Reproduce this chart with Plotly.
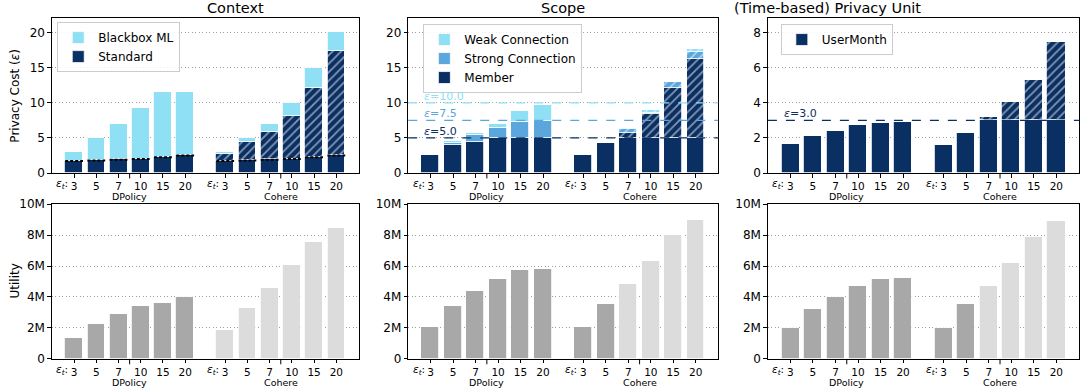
import plotly.graph_objects as go

NAVY = "#0a2f62"
LIGHT = "#8fe0f5"
MID = "#5aa6dd"
DARK_GRAY = "#a8a8a8"
LIGHT_GRAY = "#dcdcdc"
FONT = "DejaVu Sans"

# categories
eps_labels = ["3", "5", "7", "10", "15", "20"]
systems = ["DPolicy", "Cohere"]
dp_x = [0, 1, 2, 3, 4, 5]
co_x = [6.8, 7.8, 8.8, 9.8, 10.8, 11.8]

# Context: privacy cost (bar tops)
ctx_standard_base = [1.7, 1.8, 1.9, 2.0, 2.25, 2.5]
ctx_dp_total = [3.0, 4.95, 7.0, 9.3, 11.45, 11.5]
ctx_co_standard = [2.75, 4.36, 5.78, 8.15, 12.1, 17.3]
ctx_co_total = [3.0, 5.0, 7.0, 10.0, 15.0, 20.0]

# Scope: privacy cost (cumulative tops)
scope_dp_member = [2.5, 4.0, 4.36, 5.0, 5.0, 5.0]
scope_dp_strong = [2.5, 4.2, 5.35, 6.35, 7.2, 7.4]
scope_dp_weak = [2.5, 4.5, 5.64, 6.97, 8.8, 9.6]
scope_co_member = [2.5, 4.27, 5.7, 8.38, 12.1, 16.2]
scope_co_strong = [2.5, 4.27, 6.28, 8.5, 12.95, 17.2]
scope_co_weak = [2.5, 4.27, 6.43, 8.95, 13.0, 17.7]
scope_thresholds = [5.0, 7.5, 10.0]
scope_threshold_colors = [NAVY, MID, LIGHT]

# (Time-based) Privacy Unit
unit_dp = [1.67, 2.08, 2.41, 2.75, 2.86, 2.9]
unit_co = [1.61, 2.29, 3.18, 4.02, 5.27, 7.45]
unit_threshold = 3.0

# Utility (millions)
util_ctx_dp = [1.36, 2.22, 2.91, 3.43, 3.6, 3.97]
util_ctx_co = [1.85, 3.28, 4.55, 6.03, 7.56, 8.47]
util_scope_dp = [2.03, 3.43, 4.37, 5.17, 5.75, 5.8]
util_scope_co = [2.03, 3.56, 4.85, 6.34, 8.02, 8.99]
util_unit_dp = [1.98, 3.25, 4.0, 4.68, 5.15, 5.24]
util_unit_co = [2.0, 3.56, 4.72, 6.2, 7.84, 8.88]
util_ticks = [0, 2, 4, 6, 8, 10]
util_ticktext = ["0", "2M", "4M", "6M", "8M", "10M"]

titles = ["Context", "Scope", "(Time-based) Privacy Unit"]

BW = 0.8
HATCH = dict(shape="/", fgcolor="white", fillmode="overlay", size=6, solidity=0.3)
EDGE = dict(color="white", width=0.8)


def diff(a, b):
    return [max(x - y, 0) for x, y in zip(a, b)]


fig = go.Figure()


def bar(x, y, color, name, xa, ya, legend=None, hatch=False, showlegend=True):
    marker = dict(color=color, line=EDGE)
    if hatch:
        marker["pattern"] = dict(HATCH, bgcolor=color)
    fig.add_trace(go.Bar(
        x=x, y=y, name=name, width=BW, marker=marker,
        xaxis=xa, yaxis=ya, legend=legend or "legend",
        showlegend=showlegend and legend is not None,
    ))


# ---- Context ----
bar(dp_x + co_x, ctx_standard_base + ctx_standard_base, NAVY, "Standard", "x", "y", "legend")
bar(co_x, diff(ctx_co_standard, ctx_standard_base), NAVY, "Standard", "x", "y", "legend",
    hatch=True, showlegend=False)
bar(dp_x + co_x, diff(ctx_dp_total, ctx_standard_base) + diff(ctx_co_total, ctx_co_standard),
    LIGHT, "Blackbox ML", "x", "y", "legend")
seg_x, seg_y = [], []
for x, b in zip(dp_x + co_x, ctx_standard_base + ctx_standard_base):
    seg_x += [x - BW / 2, x + BW / 2, None]
    seg_y += [b, b, None]
fig.add_trace(go.Scatter(x=seg_x, y=seg_y, mode="lines", xaxis="x", yaxis="y",
                         line=dict(color="black", width=2, dash="3px,2px"),
                         showlegend=False, hoverinfo="skip"))

# ---- Scope ----
cap = scope_thresholds[0]
co_solid = [min(v, cap) for v in scope_co_member]
bar(dp_x + co_x, scope_dp_member + co_solid, NAVY, "Member", "x2", "y2", "legend2")
bar(co_x, diff(scope_co_member, co_solid), NAVY, "Member", "x2", "y2", "legend2",
    hatch=True, showlegend=False)
bar(dp_x, diff(scope_dp_strong, scope_dp_member), MID, "Strong Connection", "x2", "y2", "legend2")
bar(co_x, diff(scope_co_strong, scope_co_member), MID, "Strong Connection", "x2", "y2", "legend2",
    hatch=True, showlegend=False)
bar(dp_x, diff(scope_dp_weak, scope_dp_strong), LIGHT, "Weak Connection", "x2", "y2", "legend2")
bar(co_x, diff(scope_co_weak, scope_co_strong), LIGHT, "Weak Connection", "x2", "y2", "legend2",
    hatch=True, showlegend=False)

# ---- Privacy Unit ----
unit_co_solid = [min(v, unit_threshold) for v in unit_co]
bar(dp_x + co_x, unit_dp + unit_co_solid, NAVY, "UserMonth", "x3", "y3", "legend3")
bar(co_x, diff(unit_co, unit_co_solid), NAVY, "UserMonth", "x3", "y3", "legend3",
    hatch=True, showlegend=False)

# ---- Utility ----
over = [
    [s > b for s, b in zip(ctx_co_standard, ctx_standard_base)],
    [m > cap for m in scope_co_member],
    [u > unit_threshold for u in unit_co],
]
utils = [(util_ctx_dp, util_ctx_co), (util_scope_dp, util_scope_co), (util_unit_dp, util_unit_co)]
for i, ((udp, uco), ov) in enumerate(zip(utils, over)):
    colors = [DARK_GRAY] * len(udp) + [LIGHT_GRAY if o else DARK_GRAY for o in ov]
    fig.add_trace(go.Bar(x=dp_x + co_x, y=udp + uco, width=BW,
                         marker=dict(color=colors, line=EDGE),
                         xaxis=f"x{i + 4}", yaxis=f"y{i + 4}", showlegend=False))

# ---- axes ----
xdom = [[0.048, 0.332], [0.378, 0.665], [0.711, 0.999]]
top_dom = [0.554, 0.953]
bot_dom = [0.075, 0.474]
tickvals = dp_x + co_x
ticktext = eps_labels + eps_labels
group_centers = [sum(dp_x) / len(dp_x), sum(co_x) / len(co_x)]

axis_common = dict(showline=True, linecolor="black", linewidth=1, mirror=True,
                   ticks="outside", ticklen=3.5, tickcolor="black", zeroline=False,
                   automargin=False)
layout = {}
for i in range(6):
    n = i + 1
    sfx = "" if n == 1 else str(n)
    col = i % 3
    layout[f"xaxis{sfx}"] = dict(
        axis_common, domain=xdom[col], anchor=f"y{sfx}", range=[-1.0, 12.8],
        tickvals=tickvals, ticktext=ticktext, showgrid=False, tickangle=0,
        tickfont=dict(size=10.5, family=FONT, color="black"))
    ydom = top_dom if i < 3 else bot_dom
    yax = dict(axis_common, domain=ydom, anchor=f"x{sfx}", showgrid=True,
               gridcolor="#a0a0a0", griddash="1px,2.5px", gridwidth=1.2,
               tickfont=dict(size=12, family=FONT, color="black"))
    if i < 2:
        yax.update(range=[0, 22.05], tickvals=[0, 5, 10, 15, 20])
    elif i == 2:
        yax.update(range=[0, 8.82], tickvals=[0, 2, 4, 6, 8])
    else:
        yax.update(range=[0, 10], tickvals=util_ticks, ticktext=util_ticktext)
    layout[f"yaxis{sfx}"] = yax

annotations = []
shapes = []
for i in range(6):
    sfx = "" if i == 0 else str(i + 1)
    for gc, name in zip(group_centers, systems):
        annotations.append(dict(text=name, x=gc, xref=f"x{sfx}", y=-0.15, yref=f"y{sfx} domain",
                                showarrow=False, yanchor="middle",
                                font=dict(size=9.5, family=FONT, color="black")))
    # epsilon_t prefix in front of the first tick label of each group
    for gx in (dp_x[0], co_x[0]):
        annotations.append(dict(text="<i>ε<sub>t</sub></i>:", x=gx, xref=f"x{sfx}",
                                y=-0.069, yref=f"y{sfx} domain", xanchor="right",
                                xshift=-4, yanchor="middle", showarrow=False,
                                font=dict(size=10.5, family=FONT, color="black")))
    for gc in group_centers:
        shapes.append(dict(type="line", xref=f"x{sfx}", yref=f"y{sfx} domain",
                           x0=gc, x1=gc, y0=0, y1=-0.035, line=dict(color="black", width=1)))

for i, t in enumerate(titles):
    annotations.append(dict(text=t, x=sum(xdom[i]) / 2, xref="paper", y=1.004, yref="paper",
                            yanchor="top", showarrow=False,
                            font=dict(size=14.5, family=FONT, color="black")))

for text, dom in (("Privacy Cost (<i>ε</i>)", top_dom), ("Utility", bot_dom)):
    annotations.append(dict(text=text, x=15 / 1080, xref="paper", y=sum(dom) / 2, yref="paper",
                            textangle=-90, showarrow=False, xanchor="center", yanchor="middle",
                            font=dict(size=12, family=FONT, color="black")))

for t, c in zip(scope_thresholds, scope_threshold_colors):
    shapes.append(dict(type="line", xref="x2 domain", yref="y2", x0=0, x1=1, y0=t, y1=t,
                       line=dict(color=c, width=1.3, dash="dash")))
    annotations.append(dict(text=f"<i>ε</i>={t:.1f}", x=0.045, xref="x2 domain", y=t, yref="y2",
                            xanchor="left", yanchor="bottom", showarrow=False, yshift=-2,
                            font=dict(size=11, family=FONT, color=c)))
shapes.append(dict(type="line", xref="x3 domain", yref="y3", x0=0, x1=1,
                   y0=unit_threshold, y1=unit_threshold,
                   line=dict(color=NAVY, width=1.3, dash="dash")))
annotations.append(dict(text=f"<i>ε</i>={unit_threshold:.1f}", x=0.045, xref="x3 domain",
                        y=unit_threshold, yref="y3", xanchor="left", yanchor="bottom",
                        showarrow=False, yshift=-2, font=dict(size=11, family=FONT, color=NAVY)))

legend_common = dict(bgcolor="rgba(255,255,255,0.85)", bordercolor="#cccccc", borderwidth=1,
                     traceorder="reversed", font=dict(size=12, family=FONT, color="black"),
                     xanchor="left", yanchor="top", itemwidth=30, tracegroupgap=0)

fig.update_layout(
    **layout,
    barmode="stack",
    bargap=0,
    width=1080, height=388,
    margin=dict(l=0, r=0, t=0, b=0),
    paper_bgcolor="white", plot_bgcolor="white",
    font=dict(family=FONT, color="black"),
    annotations=annotations,
    shapes=shapes,
    legend=dict(legend_common, x=0.053, y=0.943),
    legend2=dict(legend_common, x=0.392, y=0.938),
    legend3=dict(legend_common, x=0.723, y=0.938),
)

fig.write_html("out.html", config={"displayModeBar": False},
               post_script="document.body.style.margin='0';")
